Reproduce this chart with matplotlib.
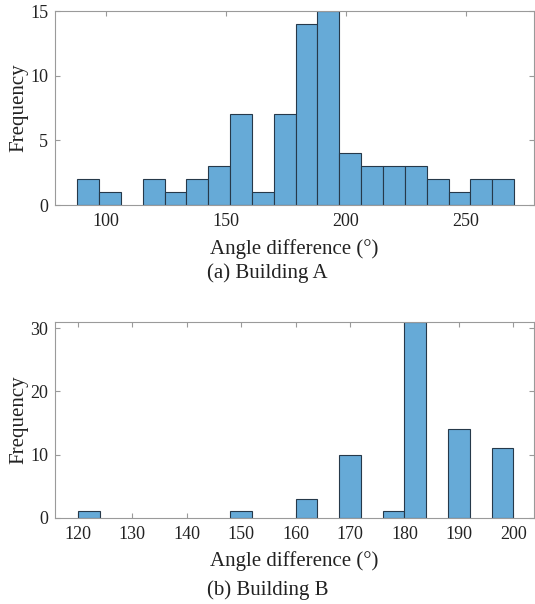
import numpy as np
import matplotlib.pyplot as plt

plt.rcParams['font.family'] = ['Liberation Serif', 'DejaVu Serif']

# Building A histogram (20 bins)
edges_a = np.linspace(88, 270, 21)
counts_a = [2, 1, 0, 2, 1, 2, 3, 7, 1, 7, 14, 15, 4, 3, 3, 3, 2, 1, 2, 2]

# Building B histogram (bin width 4)
edges_b = np.arange(120, 201, 4)
counts_b = [1, 0, 0, 0, 0, 0, 0, 1, 0, 0, 3, 0, 10, 0, 1, 31, 0, 14, 0, 11]

face = '#66aad7'
edge = '#26394a'
axcol = '#9a9a9a'

fig = plt.figure(figsize=(5.35, 6.04), dpi=100)
ax1 = fig.add_axes([55/535, 1-205/604, 479/535, 194/604])
ax2 = fig.add_axes([55/535, 1-517.7/604, 479/535, 195.7/604])


def draw(ax, edges, counts, xlim, ylim, xticks, yticks):
    counts = np.asarray(counts)
    m = counts > 0
    ax.bar(edges[:-1][m], counts[m], width=np.diff(edges)[m], align='edge',
           color=face, edgecolor=edge, linewidth=0.8, zorder=2)
    ax.set_xlim(*xlim)
    ax.set_ylim(*ylim)
    ax.set_xticks(xticks)
    ax.set_yticks(yticks)
    for s in ax.spines.values():
        s.set_color(axcol)
        s.set_linewidth(0.8)
    ax.tick_params(direction='in', top=True, right=True, length=3.5,
                   width=0.8, color=axcol, labelsize=13, labelcolor='#222222')
    ax.tick_params(axis='x', pad=6)
    ax.tick_params(axis='y', pad=5)
    ax.set_ylabel('Frequency', fontsize=15, color='#222222', labelpad=1)
    ax.set_xlabel('Angle difference (°)', fontsize=15, color='#222222', labelpad=6)


draw(ax1, edges_a, counts_a, (78.75, 278.3), (0, 15), [100, 150, 200, 250], [0, 5, 10, 15])
draw(ax2, edges_b, counts_b, (115.8, 203.8), (0, 31),
     [120, 130, 140, 150, 160, 170, 180, 190, 200], [0, 10, 20, 30])

fig.text(0.5, 1-273/604, '(a) Building A', ha='center', va='center', fontsize=15, color='#222222')
fig.text(0.5, 1-590/604, '(b) Building B', ha='center', va='center', fontsize=15, color='#222222')

fig.savefig('out.png', dpi=100)
